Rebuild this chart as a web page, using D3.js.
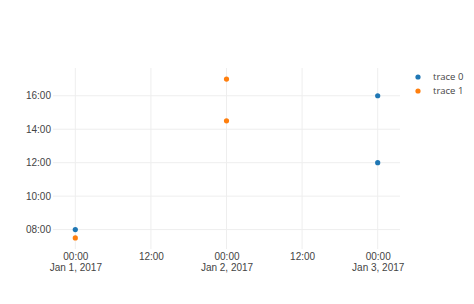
<!DOCTYPE html>
<html>
<head>
<meta charset="utf-8">
<script src="https://cdn.jsdelivr.net/npm/d3@7"></script>
<style>
  html, body { margin: 0; padding: 0; background: #fff; }
  svg { display: block; font-family: "Open Sans", "Noto Sans", sans-serif; }
</style>
</head>
<body>
<svg id="chart" width="474" height="304"></svg>
<script>
// ---- data ----
const traceNames = ["trace 0", "trace 1"];
const trace0Dates = ["2017-01-01", "2017-01-03", "2017-01-03"];
const trace0Times = ["08:00", "16:00", "12:00"];
const trace1Dates = ["2017-01-01", "2017-01-02", "2017-01-02"];
const trace1Times = ["07:30", "17:00", "14:30"];
const xTickHours = [0, 12, 24, 36, 48];          // hours after Jan 1, 2017 00:00
const yTickLabels = ["08:00", "10:00", "12:00", "14:00", "16:00"];
const colors = ["#1f77b4", "#ff7f0e"];

// ---- helpers ----
const parseDate = d3.utcParse("%Y-%m-%d");
const parseTime = d3.utcParse("%H:%M");
const series = [
  { name: traceNames[0], color: colors[0], pts: trace0Dates.map((d, i) => ({ x: parseDate(d), y: parseTime(trace0Times[i]) })) },
  { name: traceNames[1], color: colors[1], pts: trace1Dates.map((d, i) => ({ x: parseDate(d), y: parseTime(trace1Times[i]) })) }
];

const svg = d3.select("#chart");
const plot = { left: 53, right: 400, top: 68, bottom: 249 };

const allX = series.flatMap(s => s.pts.map(p => p.x));
const allY = series.flatMap(s => s.pts.map(p => p.y));
const xExt = d3.extent(allX), yExt = d3.extent(allY);
const xPadMs = 3.54 * 3600e3;
const yPadMs = 0.66 * 3600e3;

const x = d3.scaleUtc()
  .domain([new Date(+xExt[0] - xPadMs), new Date(+xExt[1] + xPadMs)])
  .range([plot.left, plot.right]);
const y = d3.scaleUtc()
  .domain([new Date(+yExt[0] - yPadMs), new Date(+yExt[1] + yPadMs)])
  .range([plot.bottom, plot.top]);

const base = parseDate("2017-01-01");
const xTicks = xTickHours.map(h => new Date(+base + h * 3600e3));
const yTicks = yTickLabels.map(t => parseTime(t));

// grid
const grid = svg.append("g");
grid.selectAll("line.gx").data(xTicks).enter().append("line")
  .attr("x1", d => x(d)).attr("x2", d => x(d))
  .attr("y1", plot.top).attr("y2", plot.bottom)
  .attr("stroke", "#eee").attr("stroke-width", 1);
grid.selectAll("line.gy").data(yTicks).enter().append("line")
  .attr("x1", plot.left).attr("x2", plot.right)
  .attr("y1", d => y(d)).attr("y2", d => y(d))
  .attr("stroke", "#eee").attr("stroke-width", 1);

// x axis labels
const fmtTime = d3.utcFormat("%H:%M");
const fmtDay = d3.utcFormat("%b %-d, %Y");
const xAxis = d3.axisBottom(x).tickValues(xTicks).tickSize(0).tickFormat(fmtTime);
const gx = svg.append("g").attr("transform", `translate(0,${plot.bottom})`).call(xAxis);
gx.select(".domain").remove();
gx.selectAll("text")
  .attr("y", 0).attr("dy", 0)
  .attr("fill", "#444").style("font-size", "10px")
  .attr("transform", "translate(0,11)")
  .each(function(d) {
    const el = d3.select(this);
    if (d.getUTCHours() === 0) {
      el.append("tspan").attr("x", 0).attr("dy", "1.05em").text(fmtDay(d));
    }
  });

// y axis labels
const yAxis = d3.axisLeft(y).tickValues(yTicks).tickSize(0).tickFormat(fmtTime);
const gy = svg.append("g").attr("transform", `translate(${plot.left - 1},0)`).call(yAxis);
gy.select(".domain").remove();
gy.selectAll("text").attr("x", -1).attr("fill", "#444").style("font-size", "10px");

// points
series.forEach(s => {
  svg.append("g").selectAll("circle").data(s.pts).enter().append("circle")
    .attr("cx", d => x(d.x)).attr("cy", d => y(d.y))
    .attr("r", 2.6).attr("fill", s.color);
});

// legend
const legend = svg.append("g").attr("transform", "translate(418,77)");
series.forEach((s, i) => {
  const g = legend.append("g").attr("transform", `translate(0,${i * 14})`);
  g.append("circle").attr("r", 2.6).attr("fill", s.color);
  g.append("text").attr("x", 15).attr("dy", "0.35em")
    .attr("fill", "#444").style("font-size", "9.5px").text(s.name);
});
</script>
</body>
</html>
